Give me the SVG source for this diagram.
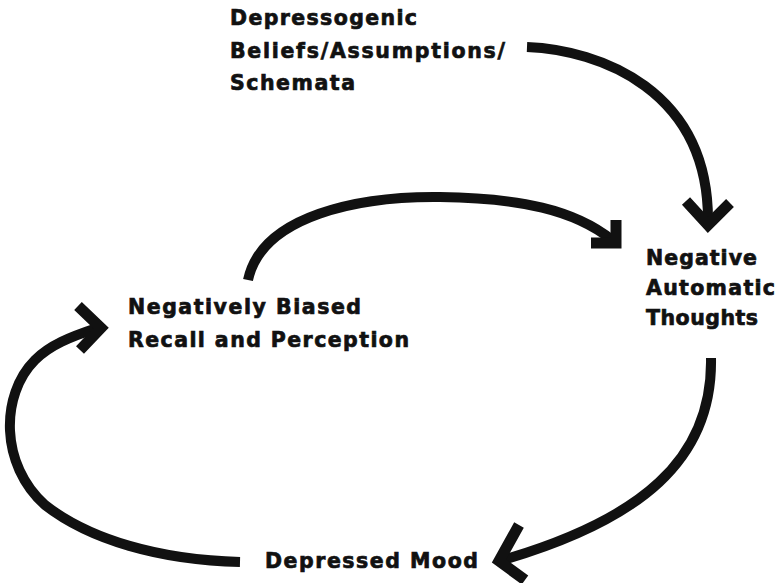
<svg xmlns="http://www.w3.org/2000/svg" width="777" height="583" viewBox="0 0 777 583">
  <style>
    .label { font-family: "DejaVu Sans", "Liberation Sans", sans-serif; font-weight: bold; font-size: 20.5px; fill: #111; stroke: #111; stroke-width: 0.7px; }
    .shaft { fill: none; stroke: #111; stroke-width: 10; stroke-linecap: butt; }
    .head { fill: none; stroke: #111; stroke-width: 11; stroke-linecap: butt; stroke-linejoin: miter; }
  </style>
  <rect width="777" height="583" fill="#ffffff"/>

  <!-- Nodes -->
  <g id="node-beliefs">
    <text class="label" x="230" y="25" textLength="187" lengthAdjust="spacing">Depressogenic</text>
    <text class="label" x="230" y="58" textLength="275" lengthAdjust="spacing">Beliefs/Assumptions/</text>
    <text class="label" x="230" y="90" textLength="125" lengthAdjust="spacing">Schemata</text>
  </g>
  <g id="node-thoughts">
    <text class="label" x="646" y="265" textLength="111" lengthAdjust="spacing">Negative</text>
    <text class="label" x="646" y="295" textLength="129" lengthAdjust="spacing">Automatic</text>
    <text class="label" x="646" y="325" textLength="112" lengthAdjust="spacing">Thoughts</text>
  </g>
  <g id="node-recall">
    <text class="label" x="128" y="314" textLength="233" lengthAdjust="spacing">Negatively Biased</text>
    <text class="label" x="128" y="347" textLength="281" lengthAdjust="spacing">Recall and Perception</text>
  </g>
  <g id="node-mood">
    <text class="label" x="265" y="568" textLength="213" lengthAdjust="spacing">Depressed Mood</text>
  </g>

  <!-- Connectors -->
  <g id="connectors">
    <!-- beliefs -> thoughts -->
    <path class="shaft" d="M527,47 C600,50 708,90 708,220"/>
    <polyline class="head" points="686,201 708,225 730,203"/>
    <!-- recall -> thoughts -->
    <path class="shaft" d="M248,280 C262,215 360,196 440,197 C520,198 575,210 612,240"/>
    <polyline class="head" points="616,220 616,243 591,243"/>
    <!-- thoughts -> mood -->
    <path class="shaft" d="M711,358 C713,460 640,520 503,560"/>
    <polyline class="head" points="519,525 499,561 525,580"/>
    <!-- mood -> recall -->
    <path class="shaft" d="M240,562 C160,560 90,540 45,505 C0,465 0,395 35,360 C50,345 70,337 97,328"/>
    <polyline class="head" points="78,306 101,328 80,350"/>
  </g>
</svg>
